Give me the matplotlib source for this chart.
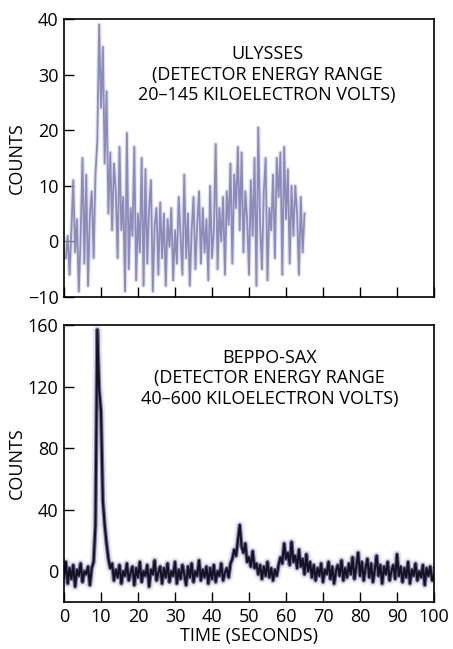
import numpy as np
import matplotlib
matplotlib.use("Agg")
import matplotlib.pyplot as plt

plt.rcParams['font.family'] = ['Open Sans', 'DejaVu Sans']

# Ulysses counts, sampled every 0.5 s starting at 0.5 s
ulysses_counts = [
    -3, 1, -6, 2, 11, -2, 4, -9, 1, 15, -4, 12, -8, 5, 9, -3, 12, 18, 39, 24,
    35, 14, 27, 5, 16, 2, 14, 9, -3, 17, 2, 8, -9, 19.5, -5, 6, 1, 17, -7, 5,
    -2, 15, -8, 13, -4, 6, 11, -9, 3, 6, -6, 7, -3, 5, -8, 4, -1, 6, -7, 2,
    -4, 8, 1, -6, 12, -3, 5, -8, 2, 8, -5, 3, 9, -4, 6, -2, 4, -7, 10, -3,
    2, 17.5, -5, 6, 0, 8, -6, 9, 3, 14, -4, 12, 6, 17, 2, 16, -2, 9, 4, -6,
    11, 1, 15, -8, 20.5, 3, -5, 9, 15, -7, 6, 2, 12, -3, 15, 8, 16, -6, 17, 4,
    13, -4, 10, 1, 10, 5, -6, 8, -2, 5,
]
ulysses_start, ulysses_step = 0.5, 0.5

# BeppoSAX counts, sampled every 0.5 s starting at 0 s
sax_counts = [
    -4, 6, -8, 2, -5, 4, -10, 1, -3, 5, -7, 0, -2, 3, -9, 2, 6, 30, 157, 118,
    104, 46, 30, 18, 8, 2, 5, -6, 1, -4, 4, -8, 0, -3, 5, -6, -1, 3, -9, 2,
    -4, 6, -7, 0, -3, 4, -10, 1, -2, 7, -6, -1, 3, -8, 2, -4, 5, -7, 0, -3,
    6, -8, 1, -5, 4, -2, -9, 3, -4, 5, -7, 0, -3, 7, -6, 1, -4, 3, -8, 2,
    -5, 4, -7, 0, -3, 5, -6, -1, 2, -4, 5, 8, 14, 10, 20, 30, 16, 12, 18, 6,
    9, 3, 13, 2, 5, -2, 4, -5, 3, -3, 6, -4, 2, -6, 1, -3, 4, 9, 5, 18,
    8, 12, 4, 19, 6, 10, 2, 14, 3, 8, -2, 11, 0, 6, -4, 4, -6, 2, -3, 5,
    -7, 1, -2, 6, -5, 3, -8, 0, 4, -3, 7, -6, 2, -4, 5, -2, 9, -5, 3, 12,
    -3, 6, -6, 2, 8, -4, 5, -7, 1, 10, -3, 4, -8, 3, -2, 6, -6, 0, 4, -5,
    11, -3, 3, -7, 2, -4, 6, -8, 1, -3, 5, -6, 0, -4, 4, -9, 2, -3, 3, -6,
    -2,
]
sax_start, sax_step = 0.0, 0.5

x_ticks = [0, 10, 20, 30, 40, 50, 60, 70, 80, 90, 100]
top_yticks = [-10, 0, 10, 20, 30, 40]
bottom_yticks = [0, 40, 80, 120, 160]

top_label = "ULYSSES\n(DETECTOR ENERGY RANGE\n20\u2013145 KILOELECTRON VOLTS)"
bottom_label = "BEPPO-SAX\n(DETECTOR ENERGY RANGE\n40\u2013600 KILOELECTRON VOLTS)"

t_u = ulysses_start + ulysses_step * np.arange(len(ulysses_counts))
t_s = sax_start + sax_step * np.arange(len(sax_counts))

FS = 13

fig = plt.figure(figsize=(4.53, 6.49), dpi=100)
ax1 = fig.add_axes([64/453, (649-297)/649, 370/453, 278/649])
ax2 = fig.add_axes([64/453, (649-602)/649, 370/453, 277/649])

# top panel
ax1.plot(t_u, ulysses_counts, color='#cfcee6', lw=3.0, alpha=0.6)
ax1.plot(t_u, ulysses_counts, color='#7e7cae', lw=1.3, alpha=0.85)
ax1.set_xlim(0, 100)
ax1.set_ylim(-10, 40)
ax1.set_yticks(top_yticks)
ax1.set_xticks(x_ticks)
ax1.set_xticklabels([])
ax1.set_ylabel("COUNTS", fontsize=FS, labelpad=1)
ax1.text(0.549, 0.905, top_label, transform=ax1.transAxes, ha='center', va='top',
         fontsize=FS, linespacing=1.18)

# bottom panel
ax2.plot(t_s, sax_counts, color='#d3d0e6', lw=6.0, alpha=0.55)
ax2.plot(t_s, sax_counts, color='#4a4573', lw=3.0, alpha=0.7)
ax2.plot(t_s, sax_counts, color='#161226', lw=1.5)
ax2.set_xlim(0, 100)
ax2.set_ylim(-20, 160)
ax2.set_yticks(bottom_yticks)
ax2.set_xticks(x_ticks)
ax2.set_xlabel("TIME (SECONDS)", fontsize=FS, labelpad=1)
ax2.set_ylabel("COUNTS", fontsize=FS, labelpad=1)
ax2.text(0.556, 0.915, bottom_label, transform=ax2.transAxes, ha='center', va='top',
         fontsize=FS, linespacing=1.18)

for ax in (ax1, ax2):
    ax.tick_params(direction='in', length=7, width=1.0, labelsize=FS, pad=4,
                   top=False, right=False)
    for sp in ax.spines.values():
        sp.set_linewidth(1.2)

fig.savefig("out.png", dpi=100)
